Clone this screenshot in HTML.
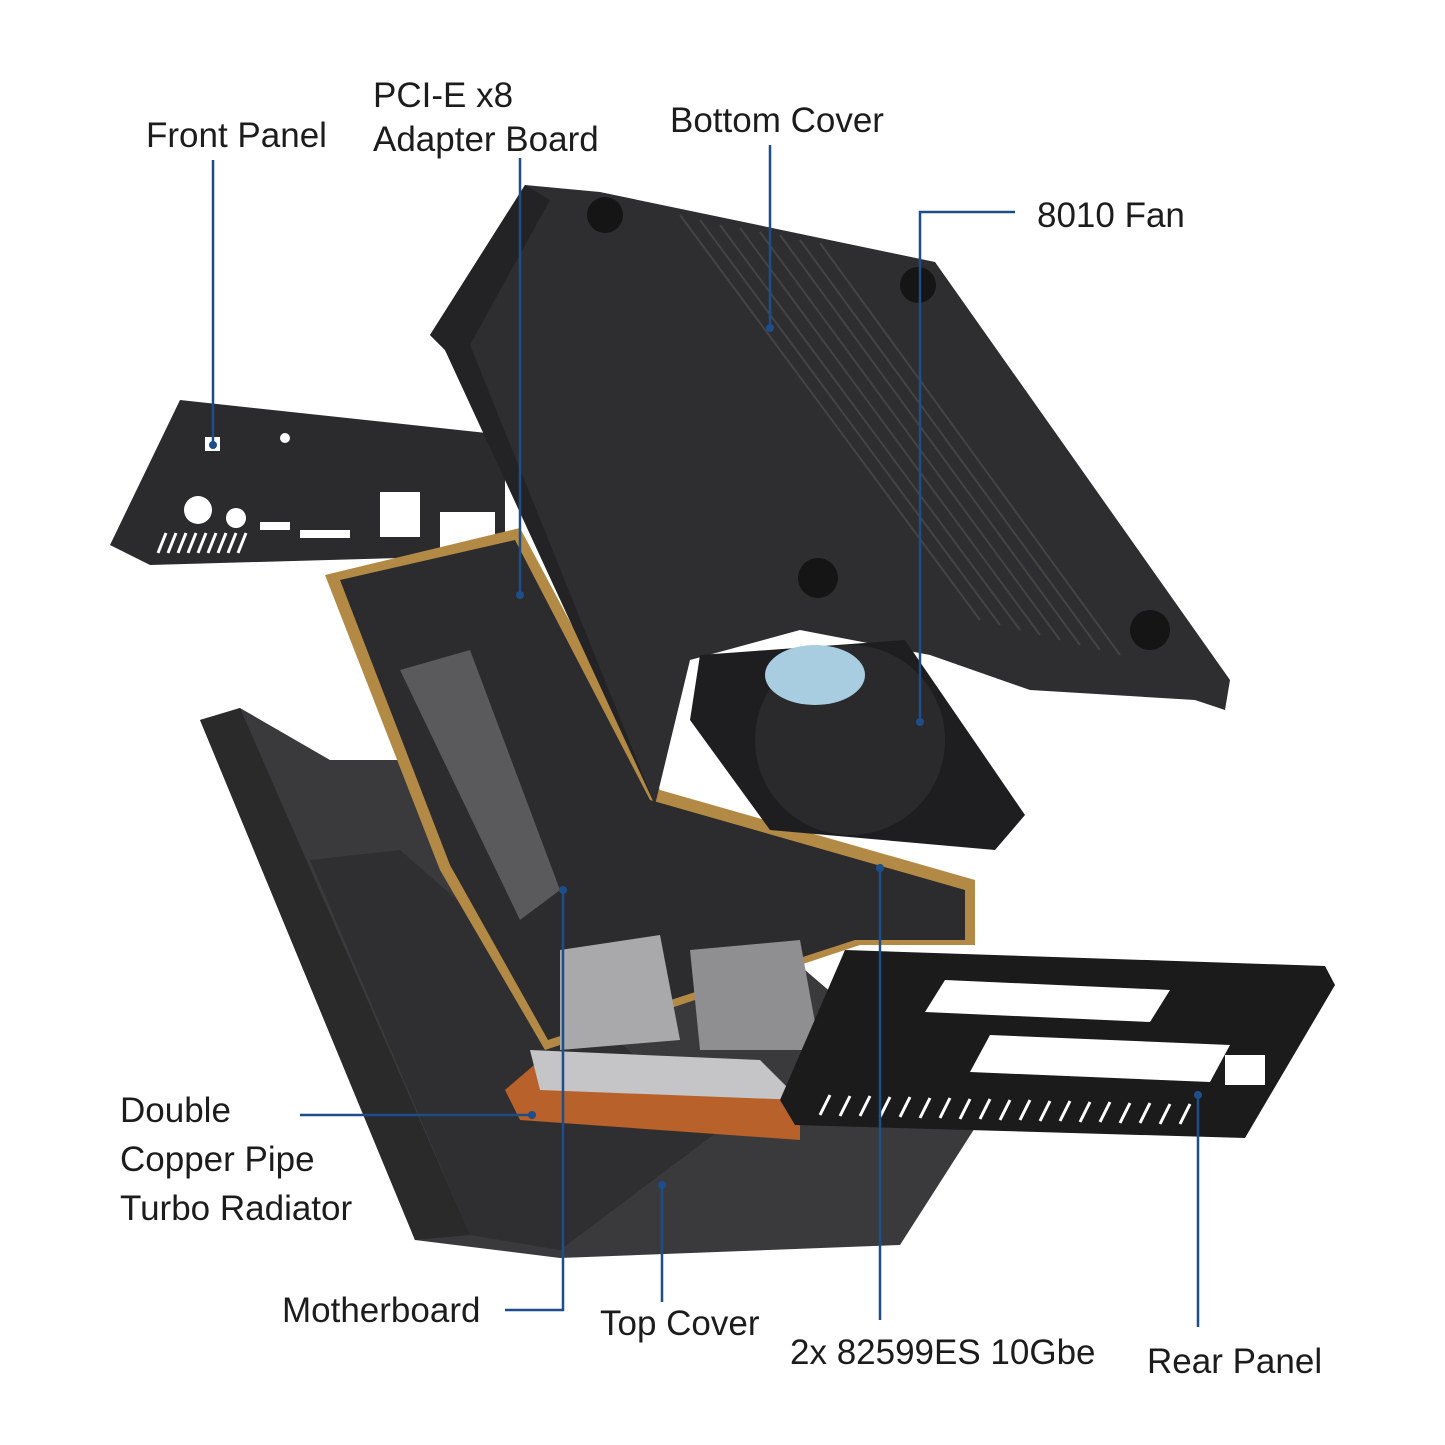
<!DOCTYPE html>
<html><head><meta charset="utf-8"><style>
html,body{margin:0;padding:0;background:#fff;}
svg{display:block}
text{font-family:"Liberation Sans",sans-serif;font-size:35px;fill:#1c1c1c}
</style></head><body>
<svg width="1445" height="1445" viewBox="0 0 1445 1445" xmlns="http://www.w3.org/2000/svg">
<!-- top cover -->
<polygon points="200,720 240,708 330,760 560,760 980,1120 900,1245 560,1258 415,1240" fill="#3a3a3c"/>
<polygon points="200,720 240,708 470,1235 415,1240" fill="#2a2a2b"/>
<polygon points="310,860 400,850 720,1130 560,1250 470,1235" fill="#2f2f31"/>
<!-- front panel -->
<polygon points="110,545 180,400 505,435 505,555 150,565" fill="#2b2b2d"/>
<g fill="#fff"><circle cx="198" cy="510" r="14"/><circle cx="236" cy="518" r="10"/><circle cx="285" cy="438" r="5"/><rect x="260" y="522" width="30" height="8"/><rect x="300" y="530" width="50" height="8"/><rect x="380" y="492" width="40" height="45"/><rect x="440" y="512" width="55" height="45"/><rect x="205" y="437" width="15" height="14"/></g>
<g stroke="#fff" stroke-width="3"><path d="M158,553 l8,-20 M168,553 l8,-20 M178,553 l8,-20 M188,553 l8,-20 M198,553 l8,-20 M208,553 l8,-20 M218,553 l8,-20 M228,553 l8,-20 M238,553 l8,-20"/></g>
<!-- motherboard -->
<polygon points="325,575 520,528 660,790 975,880 975,945 860,945 545,1050 440,870" fill="#b38a45"/>
<polygon points="340,580 515,540 650,800 965,890 965,940 855,940 548,1040 450,865" fill="#2c2c2e"/>
<polygon points="400,670 470,650 560,890 520,920" fill="#5a5a5c"/>
<polygon points="560,950 660,935 680,1040 560,1050" fill="#a9a9ab"/>
<polygon points="690,950 800,940 820,1050 700,1050" fill="#8f8f91"/>
<!-- copper -->
<polygon points="505,1090 540,1060 800,1100 800,1140 520,1120" fill="#b8612a"/>
<polygon points="530,1050 760,1060 800,1100 540,1090" fill="#c5c5c7"/>
<!-- bottom cover -->
<polygon points="430,335 525,185 600,192 935,262 1230,680 1225,710 1195,700 1030,690 930,655 800,630 690,660 655,805 445,350" fill="#2e2e30"/>
<polygon points="430,335 525,185 550,200 470,345 655,805 445,350" fill="#232325"/>
<g stroke="#444" stroke-width="2"><path d="M680,215 L980,620 M700,220 L1000,625 M720,225 L1020,630 M740,228 L1040,635 M760,232 L1060,640 M780,235 L1080,645 M800,240 L1100,650 M820,243 L1120,655"/></g>
<g fill="#151516"><circle cx="605" cy="215" r="18"/><circle cx="918" cy="285" r="18"/><circle cx="818" cy="578" r="20"/><circle cx="1150" cy="630" r="20"/></g>
<!-- fan -->
<polygon points="700,655 905,640 1025,815 995,850 770,830 690,720" fill="#1e1e20"/>
<circle cx="850" cy="740" r="95" fill="#2a2a2c"/>
<ellipse cx="815" cy="675" rx="50" ry="30" fill="#a9cde0"/>
<!-- rear panel -->
<polygon points="780,1100 845,950 1325,966 1335,985 1245,1138 795,1125" fill="#1b1b1c"/>
<g fill="#fff"><polygon points="945,980 1170,990 1150,1022 925,1012"/><polygon points="990,1035 1230,1045 1210,1082 970,1072"/><rect x="1225" y="1055" width="40" height="30"/></g>
<g stroke="#fff" stroke-width="3"><path d="M820,1115 l10,-20 M840,1116 l10,-20 M860,1116 l10,-20 M880,1117 l10,-20 M900,1117 l10,-20 M920,1118 l10,-20 M940,1118 l10,-20 M960,1119 l10,-20 M980,1119 l10,-20 M1000,1120 l10,-20 M1020,1120 l10,-20 M1040,1121 l10,-20 M1060,1121 l10,-20 M1080,1122 l10,-20 M1100,1122 l10,-20 M1120,1123 l10,-20 M1140,1123 l10,-20 M1160,1124 l10,-20 M1180,1124 l10,-20"/></g>
<!-- leader lines -->
<g stroke="#1d4e89" stroke-width="2.5" fill="none">
<path d="M213,160 V445"/><path d="M520,158 V595"/><path d="M770,145 V328"/>
<path d="M1015,212 H920 V722"/><path d="M300,1115 H532"/><path d="M505,1310 H563 V890"/>
<path d="M662,1185 V1302"/><path d="M880,868 V1320"/><path d="M1198,1095 V1327"/>
</g>
<g fill="#1d4e89"><circle cx="213" cy="445" r="4"/><circle cx="520" cy="595" r="4"/><circle cx="770" cy="328" r="4"/><circle cx="920" cy="722" r="4"/><circle cx="532" cy="1115" r="4"/><circle cx="563" cy="890" r="4"/><circle cx="662" cy="1185" r="4"/><circle cx="880" cy="868" r="4"/><circle cx="1198" cy="1095" r="4"/></g>
<text x="146" y="147">Front Panel</text>
<text x="373" y="107">PCI-E x8</text>
<text x="373" y="151">Adapter Board</text>
<text x="670" y="132">Bottom Cover</text>
<text x="1037" y="227">8010 Fan</text>
<text x="120" y="1122">Double</text>
<text x="120" y="1171">Copper Pipe</text>
<text x="120" y="1220">Turbo Radiator</text>
<text x="282" y="1322">Motherboard</text>
<text x="600" y="1335">Top Cover</text>
<text x="790" y="1364">2x 82599ES 10Gbe</text>
<text x="1147" y="1373">Rear Panel</text>
</svg>
</body></html>
